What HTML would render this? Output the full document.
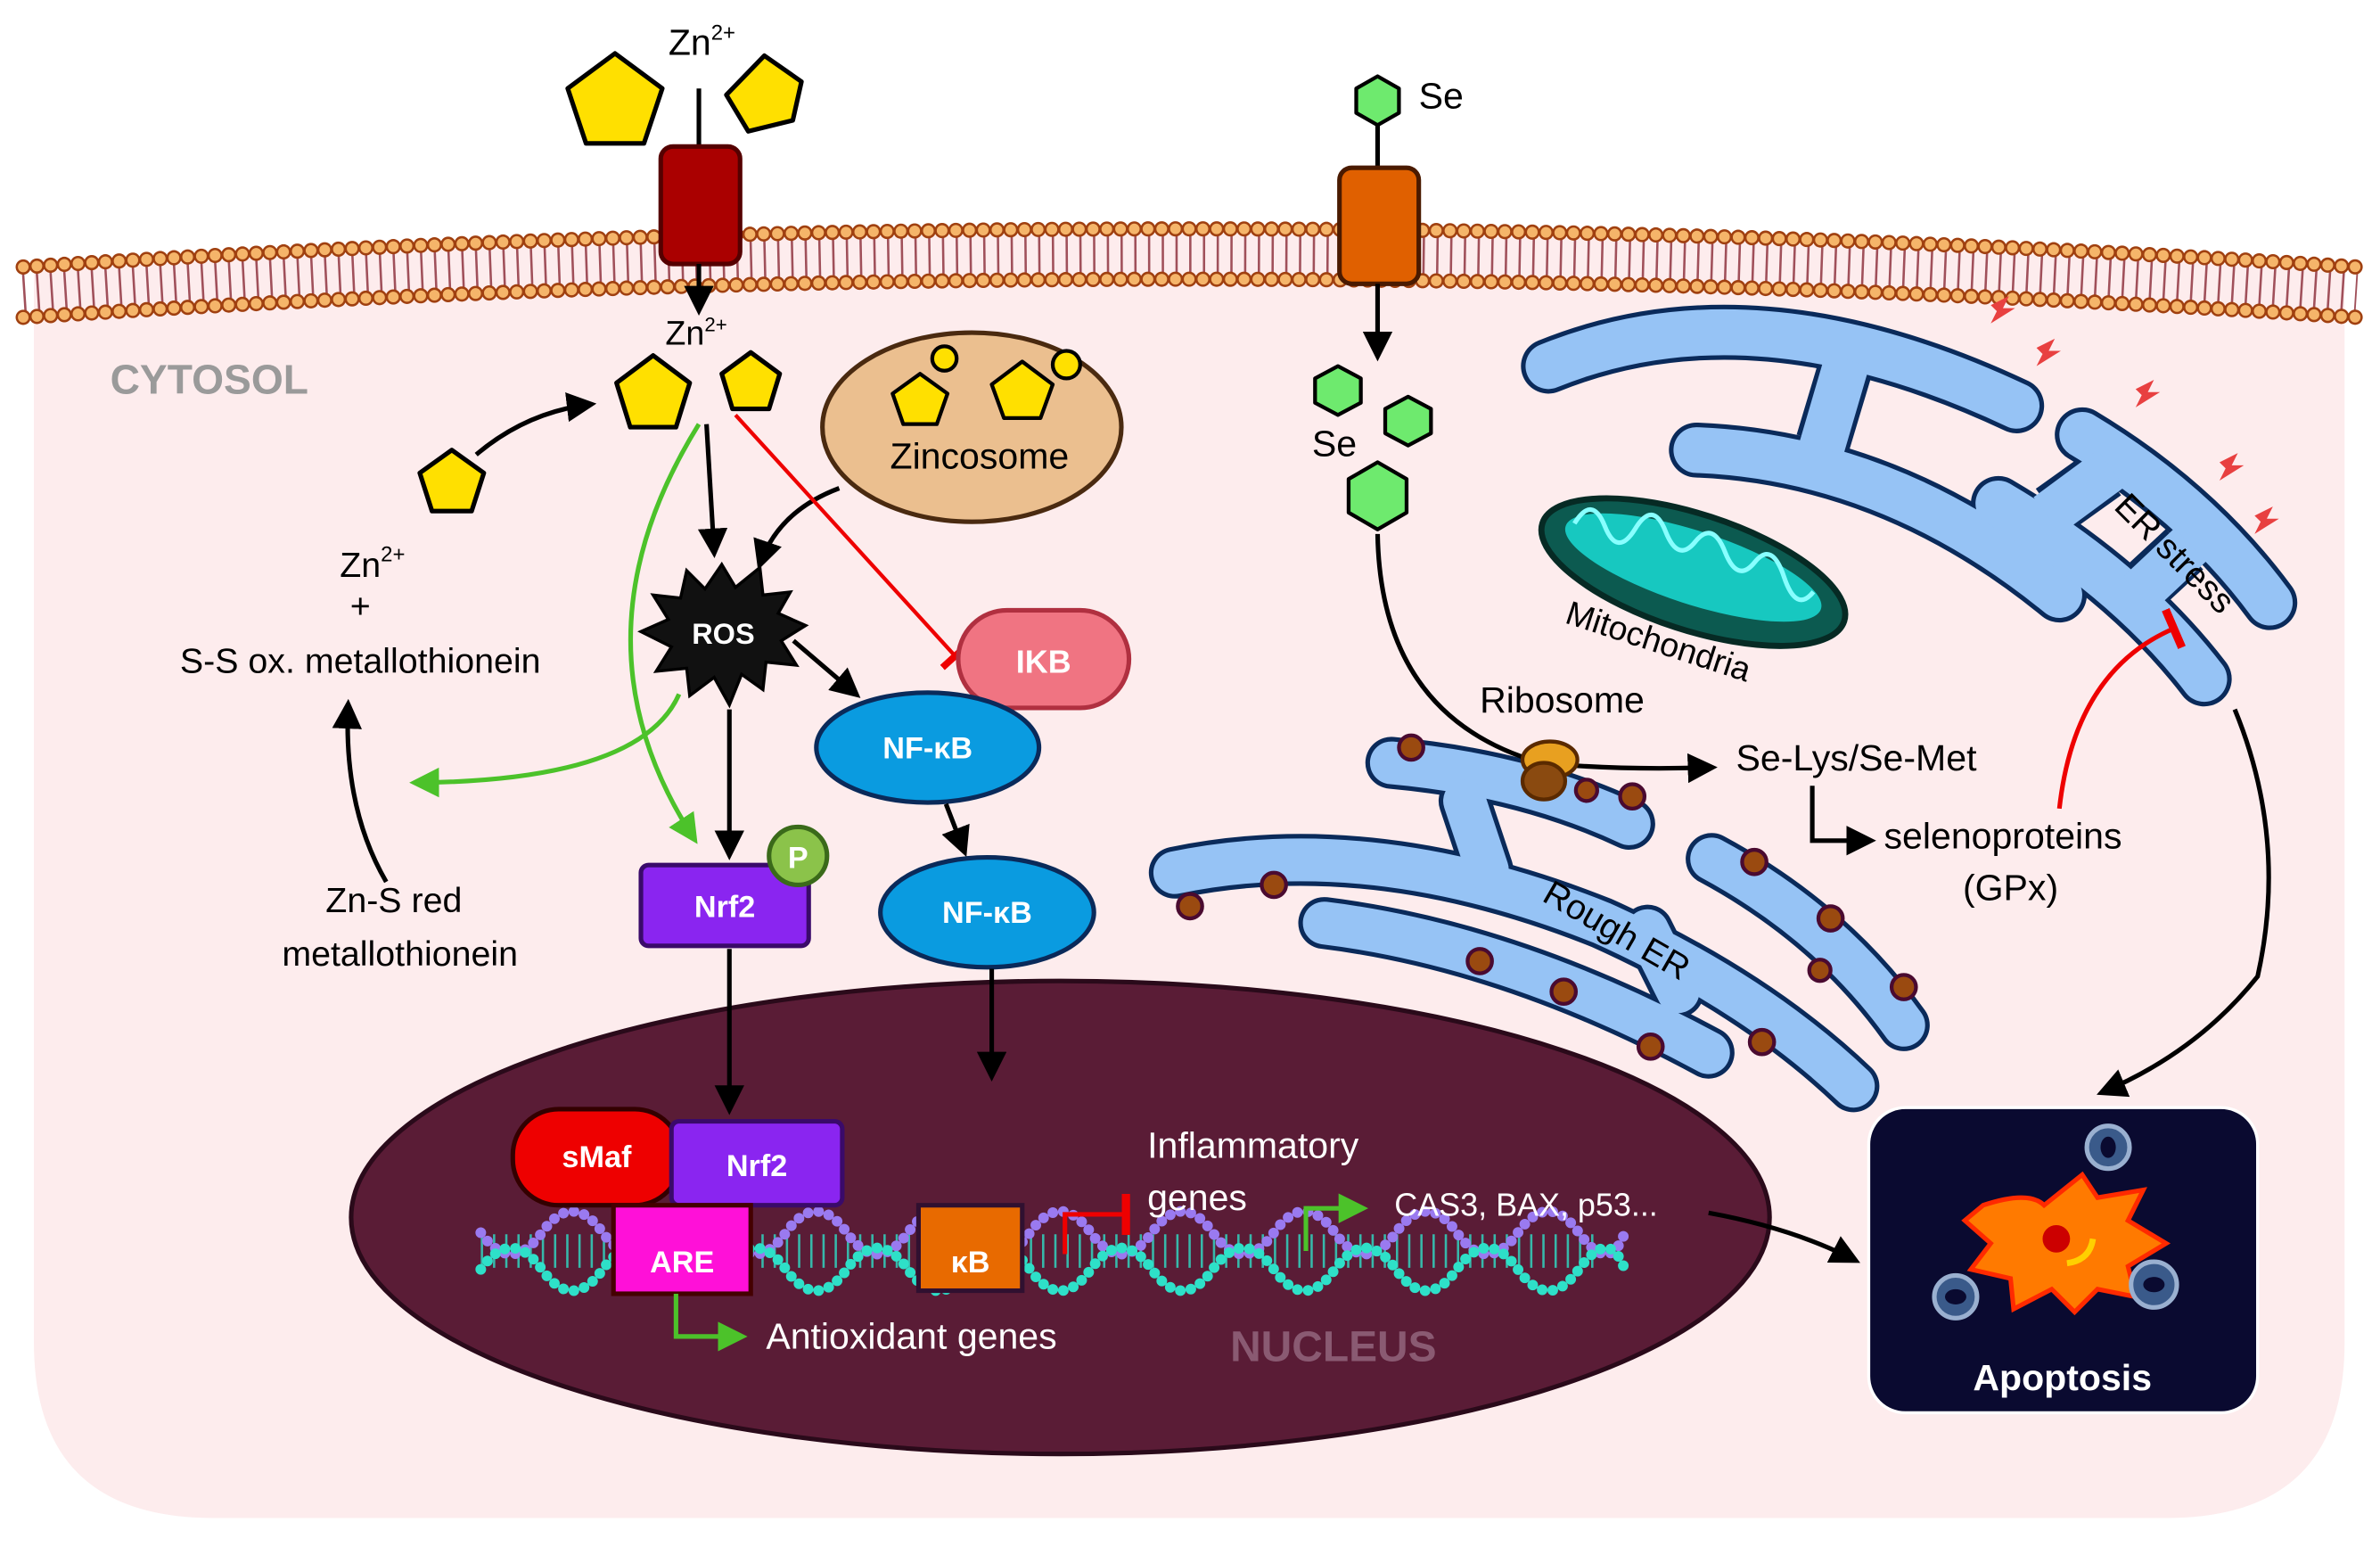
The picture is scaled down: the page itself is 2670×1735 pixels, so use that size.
<!DOCTYPE html>
<html><head><meta charset="utf-8"><style>
html,body{margin:0;padding:0;background:#fff;}
svg{display:block;}
text{font-family:"Liberation Sans",sans-serif;}
</style></head><body>
<svg width="2670" height="1735" viewBox="0 0 1560 1014" xmlns="http://www.w3.org/2000/svg">
<defs>
<marker id="ab" viewBox="0 0 10 10" refX="8" refY="5" markerWidth="6.5" markerHeight="6.5" orient="auto"><path d="M0,0 L10,5 L0,10 z" fill="#000"/></marker>
<marker id="ag" viewBox="0 0 10 10" refX="8" refY="5" markerWidth="6.5" markerHeight="6.5" orient="auto"><path d="M0,0 L10,5 L0,10 z" fill="#4cc22a"/></marker>
<marker id="tr" viewBox="0 0 4 20" refX="2" refY="10" markerWidth="3" markerHeight="9" orient="auto"><rect x="0" y="0" width="4" height="20" fill="#e00"/></marker>
</defs>
<path d="M22,178 Q780,128 1537,178 L1537,880 Q1537,995 1420,995 L140,995 Q22,995 22,880 Z" fill="#fdeced"/>
<path d="M15,190 Q780,140 1545,190" fill="none" stroke="#a0505a" stroke-width="26" stroke-dasharray="1.5 7.5" transform="translate(0,2)"/>
<path d="M15,175 Q780,125 1545,175" fill="none" stroke="#a04010" stroke-width="10" stroke-linecap="round" stroke-dasharray="0 9"/>
<path d="M15,175 Q780,125 1545,175" fill="none" stroke="#f5b56a" stroke-width="7" stroke-linecap="round" stroke-dasharray="0 9"/>
<path d="M15,208 Q780,158 1545,208" fill="none" stroke="#a04010" stroke-width="10" stroke-linecap="round" stroke-dasharray="0 9"/>
<path d="M15,208 Q780,158 1545,208" fill="none" stroke="#f5b56a" stroke-width="7" stroke-linecap="round" stroke-dasharray="0 9"/>
<text x="72" y="258" font-size="27" font-weight="bold" fill="#9a9a9a">CYTOSOL</text>

<line x1="458" y1="58" x2="458" y2="97" stroke="#000" stroke-width="3"/>
<rect x="433" y="96" width="52" height="77" rx="8" fill="#aa0000" stroke="#500" stroke-width="3"/>
<line x1="458" y1="173" x2="458" y2="203" stroke="#000" stroke-width="3" marker-end="url(#ab)"/>
<g fill="#ffe000" stroke="#000" stroke-width="3" stroke-linejoin="round">
<polygon points="403,35 434,58 422,94 384,94 372,58"/>
<polygon points="505,37 526,58 516,82 486,84 476,58" transform="rotate(-10 500 60)"/>
<polygon points="428,233 452,251 443,280 413,280 404,251"/>
<polygon points="492,231 511,245 504,268 480,268 473,245"/>
<polygon points="296,295 317,310 309,335 283,335 275,310"/>
</g>
<text x="438" y="36" font-size="24">Zn<tspan font-size="14" dy="-10">2+</tspan></text>
<text x="436" y="226" font-size="22">Zn<tspan font-size="13" dy="-9">2+</tspan></text>
<path d="M312,298 Q345,270 387,265" fill="none" stroke="#000" stroke-width="3" marker-end="url(#ab)"/>

<ellipse cx="637" cy="280" rx="98" ry="62" fill="#ebbf8f" stroke="#4a2a10" stroke-width="3"/>
<g fill="#ffe000" stroke="#000" stroke-width="2.5" stroke-linejoin="round">
<polygon points="603,245 621,258 614,278 592,278 585,258"/><circle cx="619" cy="235" r="8"/>
<polygon points="670,237 690,252 682,274 658,274 650,252"/><circle cx="699" cy="239" r="9"/>
</g>
<text x="642" y="307" font-size="24" text-anchor="middle">Zincosome</text>

<polygon points="473,370 482,385 498,372 500,390 518,388 510,402 528,410 512,420 522,436 502,434 500,452 486,442 478,462 468,444 452,456 450,438 430,440 440,424 420,414 438,406 428,390 446,392 450,374 462,386" fill="#111" stroke="#000" stroke-width="2"/>
<text x="474" y="422" font-size="19" font-weight="bold" fill="#fff" text-anchor="middle">ROS</text>
<line x1="463" y1="278" x2="468" y2="362" stroke="#000" stroke-width="3" marker-end="url(#ab)"/>
<path d="M550,320 Q510,335 498,370" fill="none" stroke="#000" stroke-width="3" marker-end="url(#ab)"/>
<line x1="482" y1="272" x2="626" y2="430" stroke="#e00" stroke-width="2.5" marker-end="url(#tr)"/>
<path d="M458,278 Q370,420 455,550" fill="none" stroke="#4cc22a" stroke-width="3" marker-end="url(#ag)"/>
<path d="M445,455 Q420,512 272,513" fill="none" stroke="#4cc22a" stroke-width="3" marker-end="url(#ag)"/>
<line x1="520" y1="420" x2="561" y2="455" stroke="#000" stroke-width="3" marker-end="url(#ab)"/>
<line x1="478" y1="465" x2="478" y2="560" stroke="#000" stroke-width="3" marker-end="url(#ab)"/>

<rect x="628" y="400" width="112" height="64" rx="32" fill="#f07482" stroke="#b03040" stroke-width="3"/>
<text x="684" y="441" font-size="21" font-weight="bold" fill="#fff" text-anchor="middle">IKB</text>

<g fill="#0a9be0" stroke="#0a2a5a" stroke-width="3">
<ellipse cx="608" cy="490" rx="73" ry="36"/>
<ellipse cx="647" cy="598" rx="70" ry="36"/>
<ellipse cx="647" cy="750" rx="73" ry="37"/>
</g>
<g font-size="20" font-weight="bold" fill="#fff" text-anchor="middle">
<text x="608" y="497">NF-κB</text><text x="647" y="605">NF-κB</text><text x="647" y="757">NF-κB</text>
</g>
<line x1="620" y1="527" x2="632" y2="558" stroke="#000" stroke-width="3" marker-end="url(#ab)"/>

<rect x="420" y="567" width="110" height="53" rx="5" fill="#8a25f0" stroke="#3a0a6a" stroke-width="3"/>
<text x="475" y="601" font-size="20" font-weight="bold" fill="#fff" text-anchor="middle">Nrf2</text>
<circle cx="523" cy="561" r="19" fill="#8bc34a" stroke="#3a6a1a" stroke-width="3"/>
<text x="523" y="569" font-size="20" font-weight="bold" fill="#fff" text-anchor="middle">P</text>

<g font-size="23" text-anchor="middle">
<text x="244" y="378">Zn<tspan font-size="14" dy="-10">2+</tspan></text>
<text x="236" y="405">+</text>
<text x="236" y="441">S-S ox. metallothionein</text>
<text x="258" y="598">Zn-S red</text>
<text x="262" y="633">metallothionein</text>
</g>
<path d="M253,578 Q225,530 228,462" fill="none" stroke="#000" stroke-width="3" marker-end="url(#ab)"/>

<ellipse cx="695" cy="798" rx="465" ry="155" fill="#5a1c36" stroke="#2a0a1a" stroke-width="3"/>
<line x1="478" y1="622" x2="478" y2="727" stroke="#000" stroke-width="3" marker-end="url(#ab)"/>
<line x1="650" y1="635" x2="650" y2="705" stroke="#000" stroke-width="3" marker-end="url(#ab)"/>
<path d="M315,820 H1045" fill="none" stroke="#2ee0c8" stroke-width="22" stroke-dasharray="1.5 6.5" opacity="0.8"/>
<path d="M315,808 q20,28 40,0 t40,0 t40,0 t40,0 t40,0 t40,0 t40,0 t40,0 t40,0 t40,0 t40,0 t40,0 t40,0 t40,0 t40,0 t40,0 t40,0 t40,0 t30,0" fill="none" stroke="#9a7af0" stroke-width="7" stroke-linecap="round" stroke-dasharray="0 7"/>
<path d="M315,832 q20,-28 40,0 t40,0 t40,0 t40,0 t40,0 t40,0 t40,0 t40,0 t40,0 t40,0 t40,0 t40,0 t40,0 t40,0 t40,0 t40,0 t40,0 t40,0 t30,0" fill="none" stroke="#2ee0c8" stroke-width="7" stroke-linecap="round" stroke-dasharray="0 7"/>
<rect x="336" y="727" width="110" height="63" rx="30" fill="#ee0000" stroke="#300" stroke-width="3"/>
<text x="391" y="765" font-size="20" font-weight="bold" fill="#fff" text-anchor="middle">sMaf</text>
<rect x="440" y="735" width="112" height="55" rx="5" fill="#8a25f0" stroke="#3a0a6a" stroke-width="3"/>
<text x="496" y="771" font-size="20" font-weight="bold" fill="#fff" text-anchor="middle">Nrf2</text>
<rect x="402" y="790" width="90" height="58" fill="#ff10d8" stroke="#400" stroke-width="3"/>
<text x="447" y="834" font-size="20" font-weight="bold" fill="#fff" text-anchor="middle">ARE</text>
<rect x="602" y="790" width="68" height="56" fill="#e86a00" stroke="#301030" stroke-width="3"/>
<text x="636" y="834" font-size="20" font-weight="bold" fill="#fff" text-anchor="middle">κB</text>
<path d="M443,848 V876 H486" fill="none" stroke="#4cc22a" stroke-width="3" marker-end="url(#ag)"/>
<text x="502" y="884" font-size="24" fill="#fff">Antioxidant genes</text>
<path d="M698,822 V796 H738" fill="none" stroke="#e00" stroke-width="3" marker-end="url(#tr)"/>
<text x="752" y="759" font-size="24" fill="#fff">Inflammatory</text>
<text x="752" y="793" font-size="24" fill="#fff">genes</text>
<path d="M856,820 V792 H893" fill="none" stroke="#4cc22a" stroke-width="3" marker-end="url(#ag)"/>
<text x="914" y="797" font-size="21" fill="#fff">CAS3, BAX, p53...</text>
<text x="874" y="892" font-size="28" font-weight="bold" fill="#8a5a72" text-anchor="middle">NUCLEUS</text>
<path d="M1120,795 Q1175,805 1216,826" fill="none" stroke="#000" stroke-width="3" marker-end="url(#ab)"/>

<line x1="903" y1="80" x2="903" y2="112" stroke="#000" stroke-width="3"/>
<rect x="878" y="110" width="52" height="76" rx="8" fill="#e06000" stroke="#4a1a00" stroke-width="3"/>
<line x1="903" y1="186" x2="903" y2="233" stroke="#000" stroke-width="3" marker-end="url(#ab)"/>
<g fill="#6eea6e" stroke="#000" stroke-width="2.5" stroke-linejoin="round">
<polygon points="903,50 917,58 917,74 903,82 889,74 889,58"/>
<polygon points="877,240 892,248 892,264 877,272 862,264 862,248"/>
<polygon points="923,260 938,268 938,284 923,292 908,284 908,268"/>
<polygon points="903,303 922,314 922,336 903,347 884,336 884,314"/>
</g>
<text x="930" y="71" font-size="24">Se</text>
<text x="860" y="299" font-size="24">Se</text>

<g fill="none" stroke-linecap="round">
<g stroke="#0a2a5a" stroke-width="36">
<path d="M1015,240 Q1150,185 1322,266"/>
<path d="M1112,295 Q1240,300 1350,390"/>
<path d="M1365,285 Q1440,330 1488,395"/>
<path d="M1310,330 Q1395,380 1445,445"/>
</g>
<g stroke="#0a2a5a" stroke-width="36" stroke-linecap="butt">
<path d="M1210,240 L1195,290"/>
<path d="M1345,335 L1380,310"/><path d="M1405,385 L1432,360"/>
</g>
<g stroke="#96c3f5" stroke-width="30">
<path d="M1015,240 Q1150,185 1322,266"/>
<path d="M1112,295 Q1240,300 1350,390"/>
<path d="M1365,285 Q1440,330 1488,395"/>
<path d="M1310,330 Q1395,380 1445,445"/>
</g>
<g stroke="#96c3f5" stroke-width="30" stroke-linecap="butt">
<path d="M1211,236 L1194,294"/>
<path d="M1342,338 L1384,307"/><path d="M1402,389 L1436,357"/>
</g>
</g>
<text x="0" y="0" font-size="23" transform="translate(1385,333) rotate(45)">ER stress</text>
<g fill="#e84040">
<path d="M1305,200 l12,-6 l-4,8 l8,0 l-16,10 l4,-8 z"/>
<path d="M1335,228 l12,-6 l-4,8 l8,0 l-16,10 l4,-8 z"/>
<path d="M1400,255 l12,-6 l-4,8 l8,0 l-16,10 l4,-8 z"/>
<path d="M1455,303 l12,-6 l-4,8 l8,0 l-16,10 l4,-8 z"/>
<path d="M1478,338 l12,-6 l-4,8 l8,0 l-16,10 l4,-8 z"/>
</g>

<ellipse cx="1110" cy="375" rx="104" ry="38" transform="rotate(18 1110 375)" fill="#0c5a50" stroke="#062a24" stroke-width="4"/>
<ellipse cx="1110" cy="372" rx="88" ry="24" transform="rotate(18 1110 372)" fill="#17c8c0"/>
<path d="M1030,350 q10,-20 20,0 t20,0 t20,0 t20,5 t20,5 t20,5 t20,8 t20,8" transform="rotate(5 1110 370)" fill="none" stroke="#8ff" stroke-width="3"/>
<text x="0" y="0" font-size="22" transform="translate(1025,408) rotate(18)">Mitochondria</text>

<g fill="none" stroke-linecap="round">
<g stroke="#0a2a5a" stroke-width="34">
<path d="M912,500 Q1000,508 1068,540"/>
<path d="M770,572 Q900,545 1050,605 Q1150,650 1215,712"/>
<path d="M868,605 Q990,620 1120,690"/>
<path d="M1122,563 Q1200,605 1248,672"/>
<path d="M960,525 L975,570"/><path d="M1080,610 L1100,650"/>
</g>
<g stroke="#96c3f5" stroke-width="28">
<path d="M912,500 Q1000,508 1068,540"/>
<path d="M770,572 Q900,545 1050,605 Q1150,650 1215,712"/>
<path d="M868,605 Q990,620 1120,690"/>
<path d="M1122,563 Q1200,605 1248,672"/>
<path d="M960,525 L975,570"/><path d="M1080,610 L1100,650"/>
</g>
</g>
<text x="0" y="0" font-size="23" transform="translate(1010,590) rotate(30)">Rough ER</text>
<g fill="#9a4a10" stroke="#4a0a30" stroke-width="2.5">
<circle cx="925" cy="490" r="8"/><circle cx="1070" cy="522" r="8"/><circle cx="1040" cy="518" r="7"/>
<circle cx="780" cy="594" r="8"/><circle cx="835" cy="580" r="8"/><circle cx="970" cy="630" r="8"/>
<circle cx="1025" cy="650" r="8"/><circle cx="1082" cy="686" r="8"/><circle cx="1155" cy="683" r="8"/>
<circle cx="1150" cy="565" r="8"/><circle cx="1200" cy="602" r="8"/><circle cx="1248" cy="647" r="8"/>
<circle cx="1193" cy="636" r="7"/>
</g>
<path d="M903,350 Q905,470 1010,500 Q1060,505 1122,503" fill="none" stroke="#000" stroke-width="3" marker-end="url(#ab)"/>
<ellipse cx="1016" cy="498" rx="18" ry="12" fill="#e8a020" stroke="#5a2a00" stroke-width="2.5"/>
<ellipse cx="1012" cy="512" rx="14" ry="12" fill="#8a4a10" stroke="#5a2a00" stroke-width="2.5"/>
<text x="1024" y="467" font-size="24" text-anchor="middle">Ribosome</text>
<text x="1138" y="505" font-size="24">Se-Lys/Se-Met</text>
<path d="M1188,515 V551 H1226" fill="none" stroke="#000" stroke-width="3" marker-end="url(#ab)"/>
<text x="1235" y="556" font-size="24">selenoproteins</text>
<text x="1318" y="590" font-size="24" text-anchor="middle">(GPx)</text>
<path d="M1350,530 Q1360,440 1425,412" fill="none" stroke="#e00" stroke-width="3" marker-end="url(#tr)"/>
<path d="M1465,465 Q1500,550 1480,640 Q1440,690 1378,716" fill="none" stroke="#000" stroke-width="3" marker-end="url(#ab)"/>

<rect x="1225" y="726" width="255" height="200" rx="24" fill="#0a0a30" stroke="#fff" stroke-width="2"/>
<path d="M1300,790 Q1330,780 1340,790 L1365,770 L1375,785 L1405,780 L1395,800 L1420,815 L1395,830 L1400,850 L1375,845 L1360,860 L1345,845 L1320,858 L1318,838 L1292,832 L1305,815 L1288,800 Z" fill="#ff7a00" stroke="#ff2a00" stroke-width="3"/>
<circle cx="1348" cy="812" r="9" fill="#c00"/>
<path d="M1355,828 Q1370,826 1372,812" fill="none" stroke="#ffd000" stroke-width="4"/>
<g fill="#3a5a8a" stroke="#9ab0d0" stroke-width="3">
<circle cx="1382" cy="752" r="14"/><circle cx="1282" cy="850" r="14"/><circle cx="1412" cy="842" r="15"/>
</g>
<g fill="#0a0a30"><ellipse cx="1382" cy="752" rx="5" ry="7"/><ellipse cx="1282" cy="850" rx="7" ry="5"/><ellipse cx="1412" cy="842" rx="7" ry="5"/></g>
<text x="1352" y="911" font-size="24" font-weight="bold" fill="#fff" text-anchor="middle">Apoptosis</text>
</svg>
</body></html>
